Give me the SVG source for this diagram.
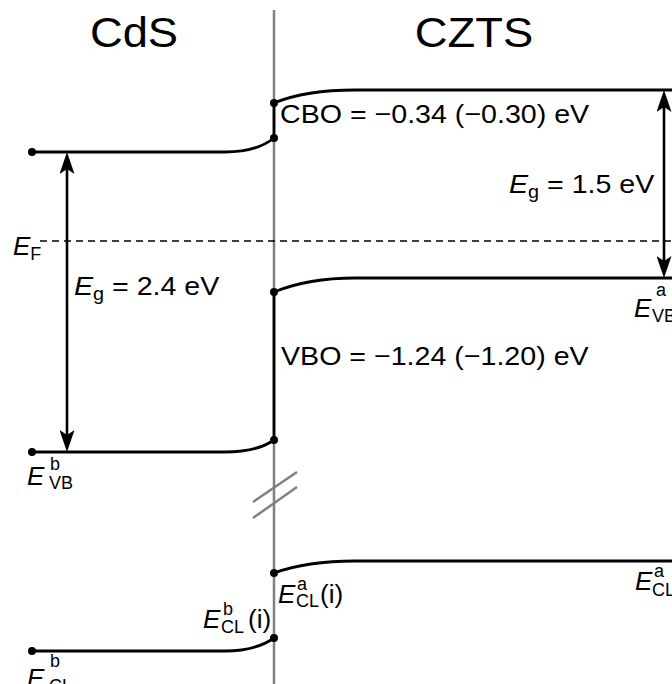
<svg xmlns="http://www.w3.org/2000/svg" width="672" height="684" viewBox="0 0 672 684">
<defs>
<style>
.band{fill:none;stroke:#000;stroke-width:2.8}
.gray{fill:none;stroke:#808080;stroke-width:2.5}
.dash{fill:none;stroke:#000;stroke-width:1.6;stroke-dasharray:7 5}
.arr{fill:none;stroke:#000;stroke-width:2.6}
.dot{fill:#000}
text{font-family:"Liberation Sans",Arial,sans-serif;fill:#000}
.lbl{font-size:26px}
.title{font-size:42px}
.E{font-size:26px;font-style:italic}
.s{font-size:18px}
</style>
<marker id="ah" viewBox="0 0 22 15" refX="14" refY="7.5" markerWidth="22" markerHeight="15" markerUnits="userSpaceOnUse" orient="auto-start-reverse">
<path d="M0,0 L22,7.5 L0,15 L5,7.5 Z" fill="#000"/>
</marker>
</defs>
<rect width="672" height="684" fill="#fff"/>

<g id="interface">
<line class="gray" x1="274" y1="10" x2="274" y2="684"/>
<line class="gray" x1="253" y1="502" x2="297" y2="472"/>
<line class="gray" x1="253" y1="518" x2="297" y2="487"/>
</g>

<g id="fermi">
<line class="dash" x1="40" y1="241" x2="672" y2="241"/>
<text class="E" x="13" y="255">E<tspan class="s" font-style="normal" dy="5">F</tspan></text>
</g>

<g id="cds-cb">
<path class="band" d="M32,152 H225 C250,152 264,146 274,138"/>
<circle class="dot" cx="32" cy="152" r="4"/>
<circle class="dot" cx="274" cy="138" r="4"/>
</g>

<g id="czts-cb">
<path class="band" d="M274,103 C296,94 322,90 355,90 H672"/>
<circle class="dot" cx="274" cy="103" r="4"/>
</g>

<g id="cds-vb">
<path class="band" d="M32,452 H225 C250,452 264,447 274,440"/>
<circle class="dot" cx="32" cy="452" r="4"/>
<circle class="dot" cx="274" cy="440" r="4"/>
<text class="E" x="27" y="485">E</text>
<text class="s" x="50" y="470">b</text>
<text class="s" x="49" y="489">VB</text>
</g>

<g id="czts-vb">
<path class="band" d="M274,292 C296,283 322,278 355,278 H672"/>
<circle class="dot" cx="274" cy="292" r="4"/>
<text class="E" x="634" y="317">E</text>
<text class="s" x="656" y="296">a</text>
<text class="s" x="652" y="322">VB</text>
</g>

<g id="cds-cl">
<path class="band" d="M32,651 H225 C250,651 264,645 274,638"/>
<circle class="dot" cx="32" cy="651" r="4"/>
<circle class="dot" cx="274" cy="638" r="4"/>
<text class="E" x="27" y="687">E</text>
<text class="s" x="50" y="667">b</text>
<text class="s" x="49" y="692">CL</text>
<text class="E" x="203" y="628">E</text>
<text class="s" x="223" y="615">b</text>
<text class="s" x="221" y="633">CL</text>
<text class="lbl" x="248" y="628">(i)</text>
</g>

<g id="czts-cl">
<path class="band" d="M274,573 C296,565 322,561 355,561 H672"/>
<circle class="dot" cx="274" cy="573" r="4"/>
<text class="E" x="278" y="603">E</text>
<text class="s" x="297" y="590">a</text>
<text class="s" x="296" y="607">CL</text>
<text class="lbl" x="320" y="603">(i)</text>
<text class="E" x="635" y="590">E</text>
<text class="s" x="654" y="577">a</text>
<text class="s" x="652" y="596">CL</text>
</g>

<g id="connectors">
<line class="band" x1="274" y1="103" x2="274" y2="138"/>
<line class="band" x1="274" y1="292" x2="274" y2="440"/>
<line class="arr" x1="67" y1="160" x2="67" y2="444" marker-start="url(#ah)" marker-end="url(#ah)"/>
<line class="arr" x1="664" y1="98" x2="664" y2="270" marker-start="url(#ah)" marker-end="url(#ah)"/>
</g>

<g id="labels">
<text class="title" text-anchor="middle" transform="translate(134,47) scale(1.08,1)">CdS</text>
<text class="title" text-anchor="middle" transform="translate(474,47) scale(1.08,1)">CZTS</text>
<text class="lbl" transform="translate(280,123) scale(1.1,1)">CBO = −0.34 (−0.30) eV</text>
<text class="lbl" transform="translate(281,365) scale(1.1,1)">VBO = −1.24 (−1.20) eV</text>
<text class="lbl" transform="translate(509,193) scale(1.1,1)"><tspan font-style="italic">E</tspan><tspan class="s" dy="5">g</tspan><tspan dy="-5"> = 1.5 eV</tspan></text>
<text class="lbl" transform="translate(74,295) scale(1.1,1)"><tspan font-style="italic">E</tspan><tspan class="s" dy="5">g</tspan><tspan dy="-5"> = 2.4 eV</tspan></text>
</g>
</svg>
